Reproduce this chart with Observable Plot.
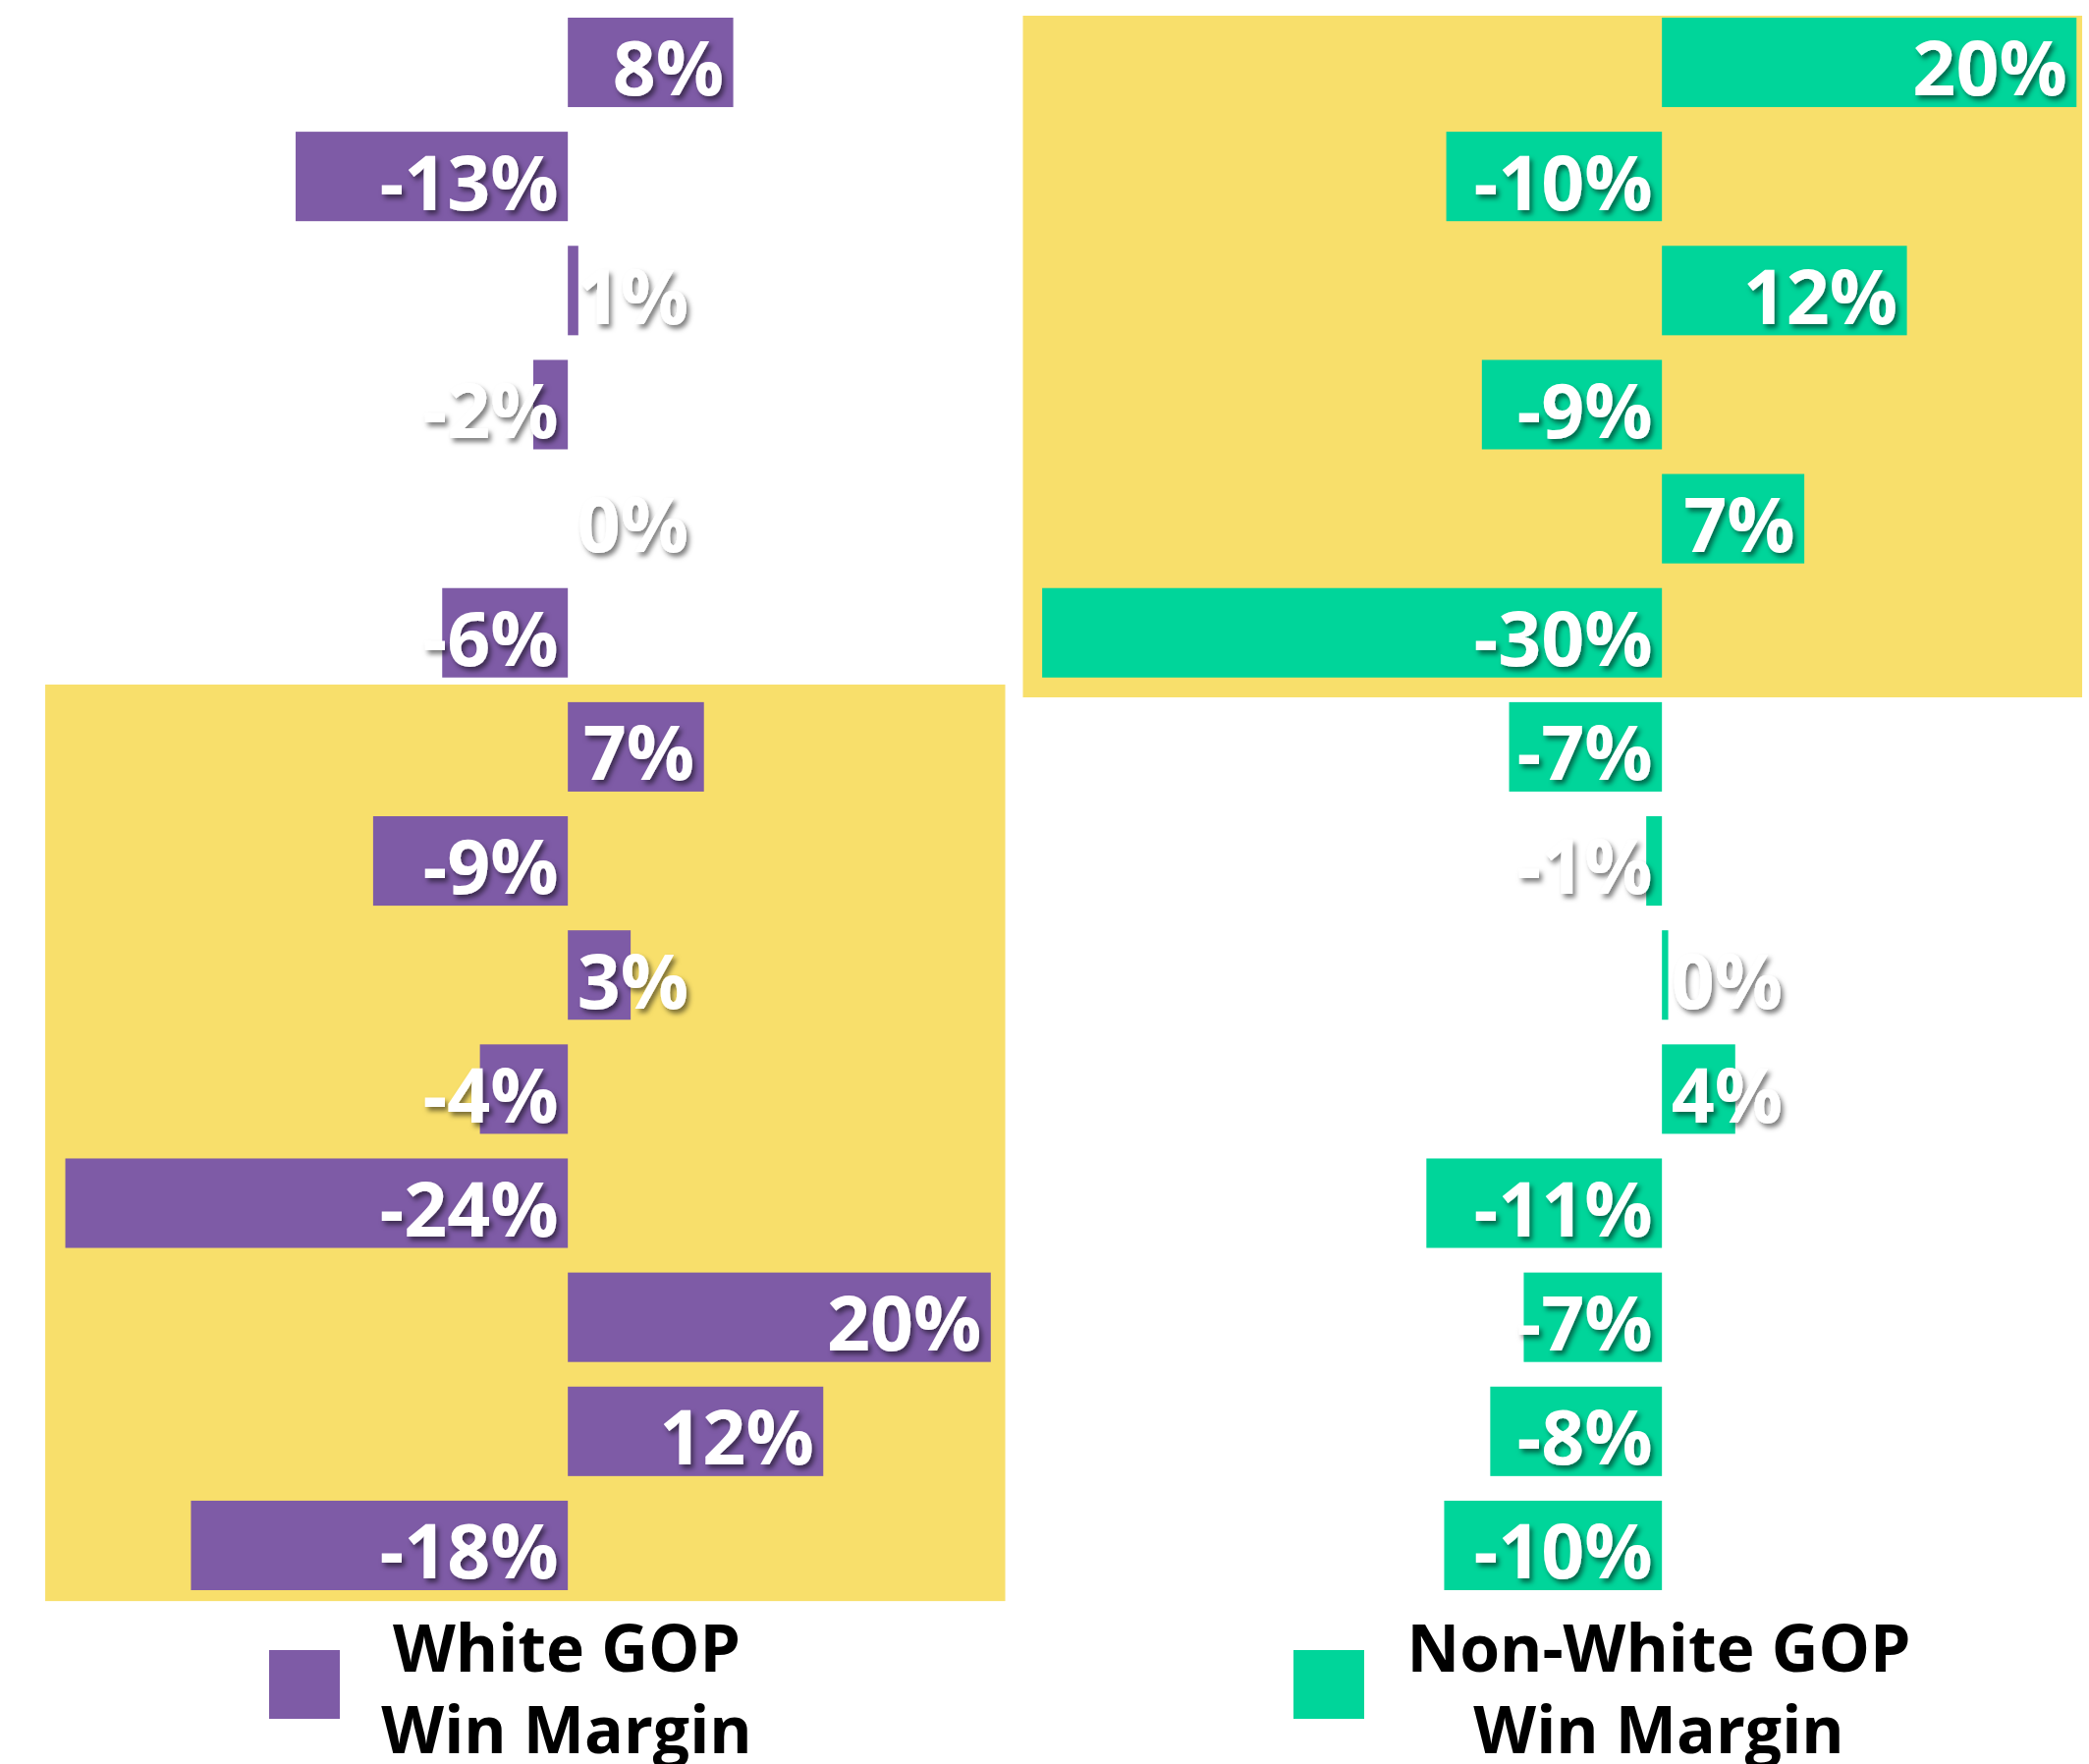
<!DOCTYPE html>
<html>
<head>
<meta charset="utf-8">
<script src="https://cdn.jsdelivr.net/npm/d3@7"></script>
<script src="https://cdn.jsdelivr.net/npm/@observablehq/plot@0.6"></script>
<style>
  html, body { margin: 0; padding: 0; background: #ffffff; }
  #wrap { position: relative; width: 2127px; height: 1796px; overflow: hidden; }
  #wrap svg { display: block; }
  .sw { position: absolute; width: 72px; height: 70px; }
  .lt { position: absolute; width: 700px; text-align: center; font-family: "Open Sans", sans-serif;
        font-weight: 700; font-size: 66px; line-height: 83px; color: #000; white-space: nowrap; }
</style>
</head>
<body>
<div id="wrap"></div>
<script>
// ---- data ----
const rows = [0, 1, 2, 3, 4, 5, 6, 7, 8, 9, 10, 11, 12, 13];
const groups = ["White GOP Win Margin", "Non-White GOP Win Margin"];
const whiteMargin = [7.9, -13.0, 0.5, -1.65, 0, -6.0, 6.5, -9.3, 3.0, -4.2, -24.0, 20.2, 12.2, -18.0];
const whiteLabels = ["8%", "-13%", "1%", "-2%", "0%", "-6%", "7%", "-9%", "3%", "-4%", "-24%", "20%", "12%", "-18%"];
const nonWhiteMargin = [19.8, -10.3, 11.7, -8.6, 6.8, -29.6, -7.3, -0.75, 0.3, 3.5, -11.25, -6.6, -8.2, -10.4];
const nonWhiteLabels = ["20%", "-10%", "12%", "-9%", "7%", "-30%", "-7%", "-1%", "0%", "4%", "-11%", "-7%", "-8%", "-10%"];
const highlightRows = [[6, 14], [0, 6]]; // highlighted row ranges per group
const legendLines = [["White GOP", "Win Margin"], ["Non-White GOP", "Win Margin"]];

const colors = ["#7E5BA6", "#00D59A"];
const yellow = "#F8DF6B";

const data = [];
rows.forEach(i => {
  data.push({group: groups[0], row: i, value: whiteMargin[i], label: whiteLabels[i]});
  data.push({group: groups[1], row: i, value: nonWhiteMargin[i], label: nonWhiteLabels[i]});
});
const small = d => d.value >= 0 && d.value < 5;

const hlLeft = [{group: groups[0], r0: highlightRows[0][0], r1: highlightRows[0][1]}];
const hlRight = [{group: groups[1], r0: highlightRows[1][0], r1: highlightRows[1][1]}];

const chart = Plot.plot({
  width: 2127,
  height: 1640,
  marginLeft: 0, marginRight: 0, marginTop: 5.2, marginBottom: 8.7,
  fx: {domain: groups, paddingInner: 0.0915, paddingOuter: 0, axis: null, label: null},
  x: {domain: [-27.12, 20.35], axis: null},
  y: {domain: [0, 14], reverse: true, axis: null},
  color: {domain: groups, range: colors},
  marks: [
    Plot.rect(hlLeft, {fx: "group", x1: () => -24.96, x2: () => 20.89,
      y1: d => d.r0 - 0.044, y2: d => d.r1 - 0.01, fill: yellow}),
    Plot.rect(hlRight, {fx: "group", x1: () => -30.52, x2: () => 20.07,
      y1: d => d.r0 + 0.093, y2: d => d.r1 + 0.068, fill: yellow}),
    Plot.rect(data, {fx: "group", x1: () => 0, x2: "value",
      y1: d => d.row + 0.11, y2: d => d.row + 0.894, fill: "group"}),
    Plot.text(data.filter(d => !small(d)), {fx: "group", x: d => Math.max(0, d.value), y: d => d.row + 0.5,
      text: "label", textAnchor: "end", dx: -10, dy: 9, fill: "#ffffff",
      fontFamily: "Open Sans", fontWeight: 700, fontSize: 77}),
    Plot.text(data.filter(small), {fx: "group", x: () => 0, y: d => d.row + 0.5,
      text: "label", textAnchor: "start", dx: 9, dy: 9, fill: "#ffffff",
      fontFamily: "Open Sans", fontWeight: 700, fontSize: 77})
  ]
});

const svg = d3.select(chart);
svg.insert("defs", ":first-child").html(
  '<filter id="ts" x="-30%" y="-30%" width="160%" height="170%">' +
  '<feDropShadow dx="3" dy="4" stdDeviation="2.5" flood-color="#000" flood-opacity="0.5"/></filter>');
svg.selectAll('g[aria-label="text"]').attr("filter", "url(#ts)");

const wrap = document.getElementById("wrap");
wrap.appendChild(chart);

// ---- legend (HTML, below the SVG) ----
const legendPos = [{sw: 274, cx: 577}, {sw: 1317, cx: 1689}];
legendPos.forEach((p, k) => {
  const sw = document.createElement("div");
  sw.className = "sw";
  sw.style.left = p.sw + "px";
  sw.style.top = "1680px";
  sw.style.background = colors[k];
  wrap.appendChild(sw);
  const t = document.createElement("div");
  t.className = "lt";
  t.style.left = (p.cx - 350) + "px";
  t.style.top = "1635px";
  t.innerHTML = legendLines[k].join("<br>");
  wrap.appendChild(t);
});
</script>
</body>
</html>
